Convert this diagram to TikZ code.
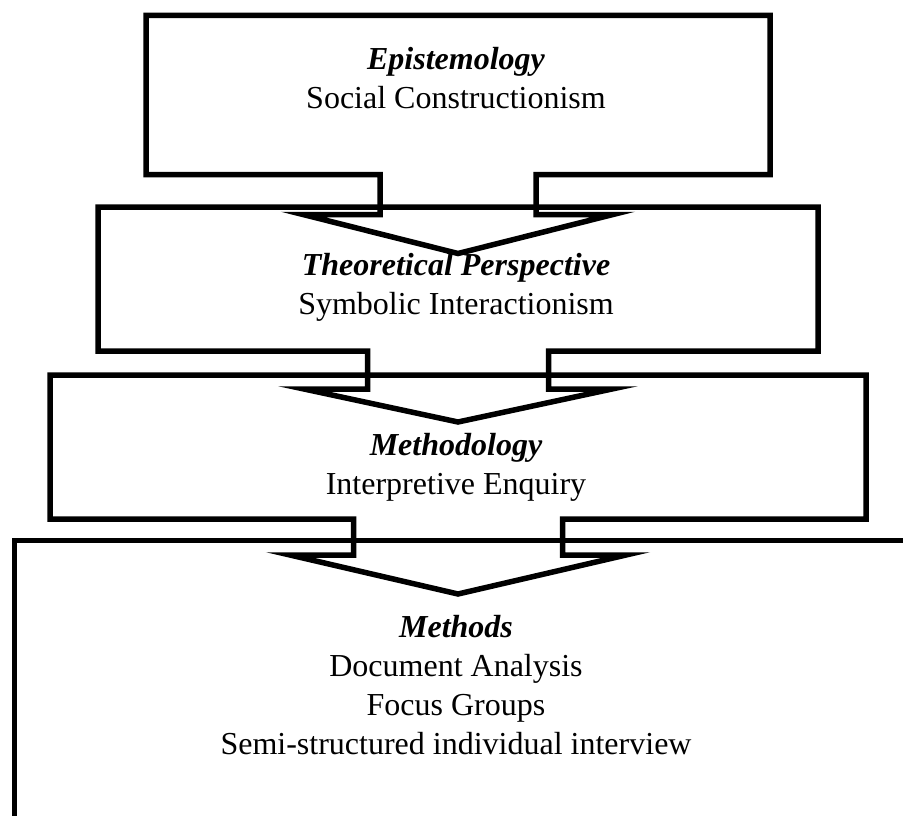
\documentclass[tikz,border=0pt]{standalone}
\usepackage{fontspec}
\setmainfont{Liberation Serif}
% Rectangle with a downward arrow hanging from its bottom edge, centred on x=458.
% #1 left, #2 top, #3 right, #4 bottom, #5 half stem width,
% #6 half head width, #7 shoulder y, #8 tip y
\newcommand{\dcallout}[8]{%
  \draw[callout] (#1,#2) -- (#3,#2) -- (#3,#4) -- ({458+#5},#4)
    -- ({458+#5},#7) -- ({458+#6},#7) -- (458,#8) -- ({458-#6},#7)
    -- ({458-#5},#7) -- ({458-#5},#4) -- (#1,#4) -- cycle;}
\begin{document}
\begin{tikzpicture}[x=1pt,y=-1pt,
  callout/.style={draw=black,line width=5.5pt,miter limit=12},
  lbl/.style={anchor=base,inner sep=0pt,font=\fontsize{32}{39}\selectfont},
  ttl/.style={lbl,font=\fontsize{32}{39}\selectfont\bfseries\itshape}]
\useasboundingbox (0,0) rectangle (903,816);
\begin{scope}
\clip (0,0) rectangle (903,816);
% four stacked levels
\dcallout{146}{15.5}{770}{174.5}{78}{155}{214.5}{253.5}
\dcallout{98}{207}{818}{351}{90.5}{154}{389}{422}
\dcallout{50}{375}{866}{519}{104.5}{168}{555}{594}
\draw[callout] (14.5,830) -- (14.5,540.5) -- (915,540.5);
\end{scope}
% labels
\node[ttl] (epi) at (456,70) {Epistemology};
\node[lbl] (epiv) at (456,109) {Social Constructionism};
\node[ttl] (thp) at (456,275) {Theoretical Perspective};
\node[lbl] (thpv) at (456,314) {Symbolic Interactionism};
\node[ttl] (mty) at (456,455) {Methodology};
\node[lbl] (mtyv) at (456,494) {Interpretive Enquiry};
\node[ttl] (mth) at (456,637) {Methods};
\node[lbl] (mth1) at (456,676) {Document Analysis};
\node[lbl] (mth2) at (456,715) {Focus Groups};
\node[lbl] (mth3) at (456,754) {Semi-structured individual interview};
\end{tikzpicture}
\end{document}
